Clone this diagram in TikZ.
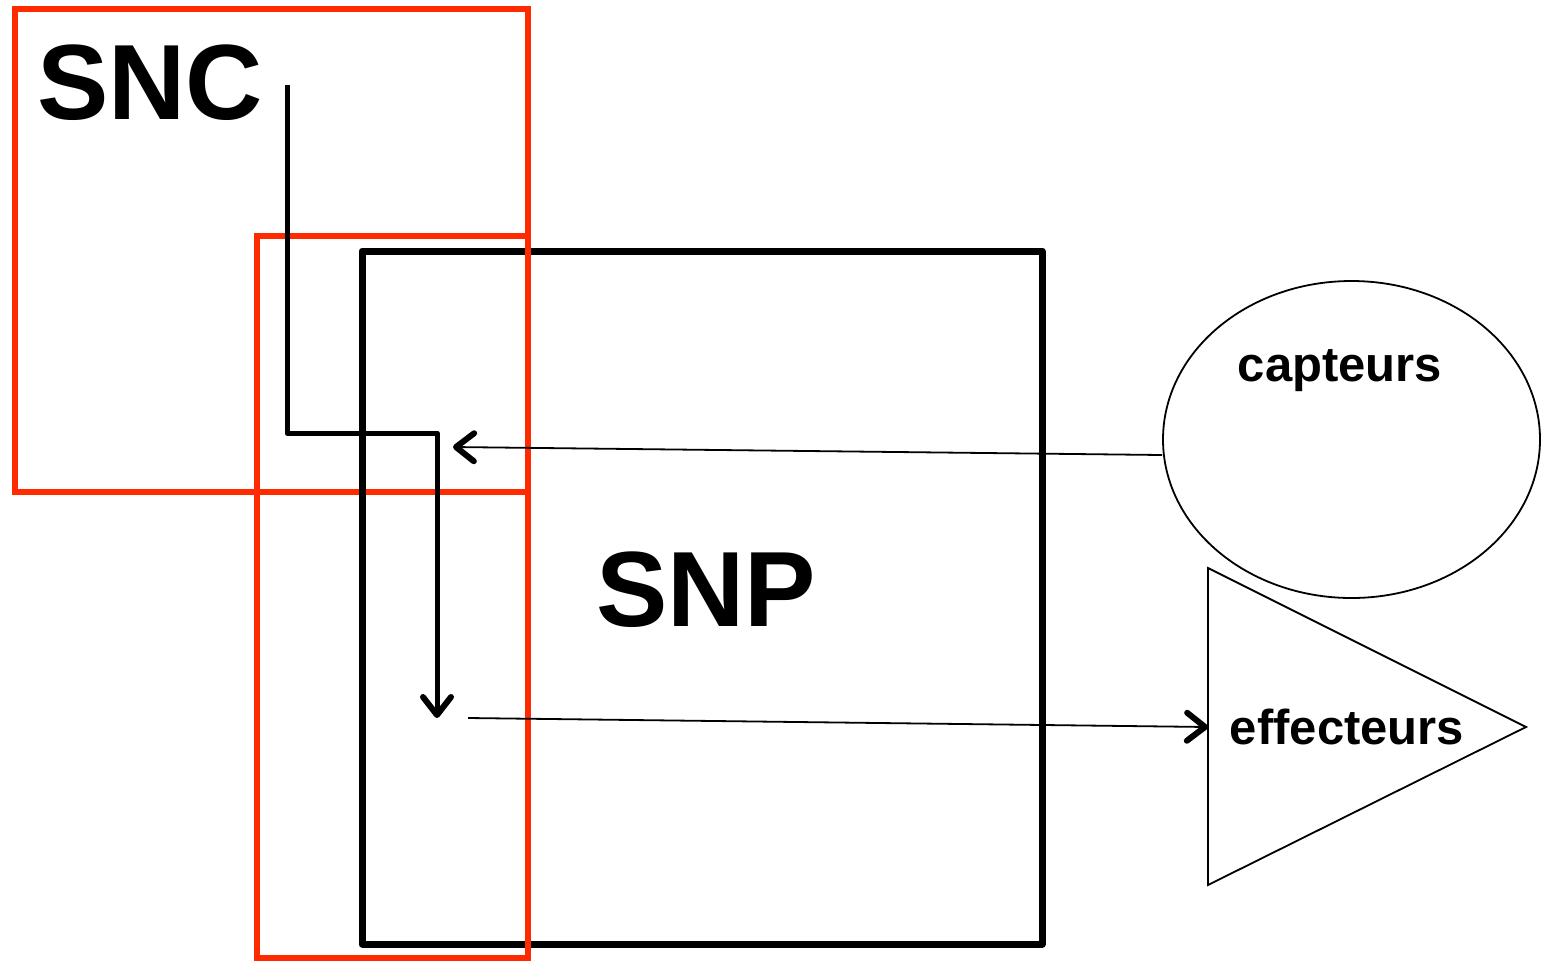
\documentclass[tikz,border=0pt]{standalone}
\usepackage{fontspec}
\setmainfont{Liberation Sans}
\usetikzlibrary{arrows.meta,shapes.geometric}
\definecolor{boxred}{HTML}{FF2A00}
\tikzset{
  redbox/.style={draw=boxred, line width=6pt, inner sep=0pt, fill=none},
  blackbox/.style={draw=black, line width=7pt, inner sep=0pt, line join=round},
  bigtitle/.style={font=\fontsize{107}{110}\selectfont\bfseries, inner sep=0pt, anchor=base},
  smalltitle/.style={font=\fontsize{49}{52}\selectfont\bfseries, inner sep=0pt, anchor=base},
  chev/.style={-{Straight Barb[length=18pt, width=28pt, line width=6pt 0 1, round]}},
  thinline/.style={line width=1.8pt},
  pathline/.style={line width=5pt, line join=round},
}
\begin{document}
\begin{tikzpicture}[x=1pt,y=-1pt]
\useasboundingbox (0,0) rectangle (1541,962);
% boxes
\node[redbox, minimum width=513.5pt, minimum height=483pt] (snc) at (271.25,250.5) {};
\node[blackbox, minimum width=680pt, minimum height=693pt] (snp) at (702,597.5) {};
\node[redbox, minimum width=271pt, minimum height=722pt] (snc2) at (392.5,597) {};
% titles
\node[bigtitle] (snclabel) at (150,119) {SNC};
\node[bigtitle] (snplabel) at (706,626) {SNP};
% capteurs
\node[ellipse, draw, line width=1.8pt, minimum width=377pt, minimum height=317pt, inner sep=0pt] (cap) at (1351.5,439.5) {};
\node[smalltitle] (captxt) at (1340,381) {capteurs};
% effecteurs
\coordinate (ta) at (1208,568);
\coordinate (tb) at (1208,885);
\coordinate (tc) at (1526,727);
\draw[thinline, line join=miter] (ta) -- (tc) -- (tb) -- cycle;
\coordinate (effin) at (1208,727);
\node[smalltitle] (efftxt) at (1347,744) {effecteurs};
% connectors
\coordinate (cmdstart) at (287,85);
\coordinate (cmdc1) at (287,433);
\coordinate (cmdc2) at (437,433);
\coordinate (cmdend) at (437,718);
\draw[pathline, chev] (cmdstart) -- (cmdc1) -- (cmdc2) -- (cmdend);
\coordinate (capend) at (453,447);
\draw[thinline, chev] (cap.west |- 0,455) -- (capend);
\coordinate (effstart) at (468,718);
\draw[thinline, chev] (effstart) -- (effin);
\end{tikzpicture}
\end{document}
